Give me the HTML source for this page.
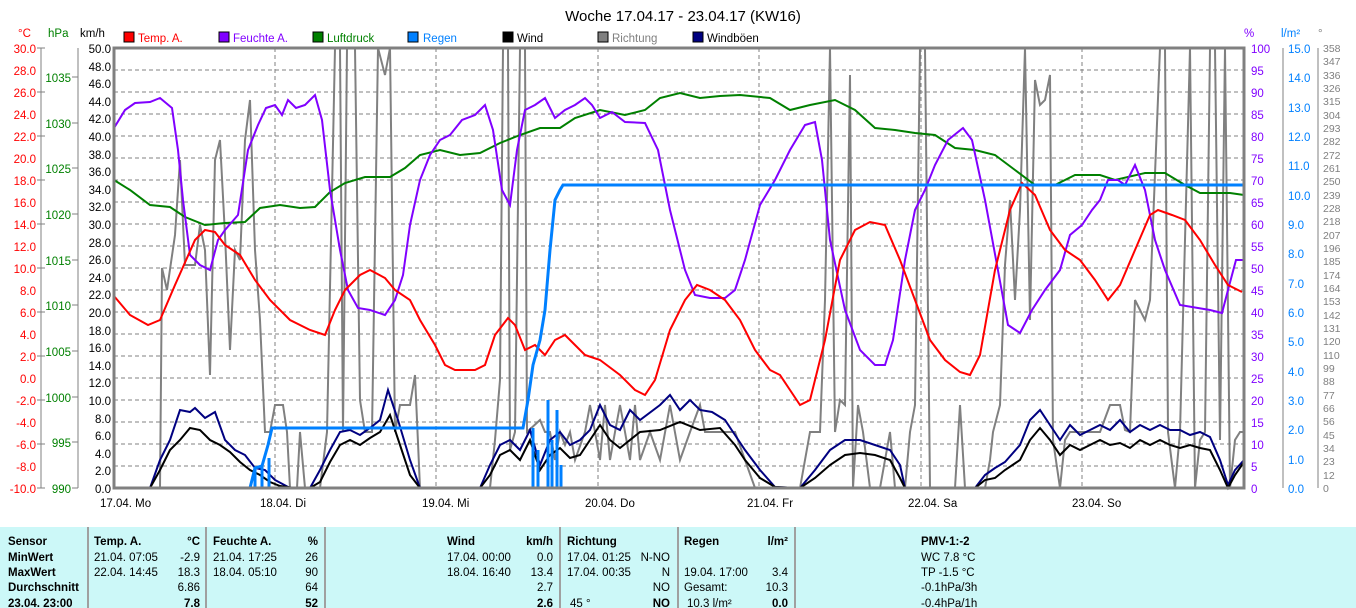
<!DOCTYPE html>
<html><head><meta charset="utf-8"><style>
body{margin:0;width:1356px;height:608px;background:#fff;overflow:hidden;font-family:"Liberation Sans",sans-serif}
svg{position:absolute;left:0;top:0}
.t{position:absolute;font-size:11.5px;letter-spacing:-0.3px;white-space:nowrap}
.b{font-weight:bold}
</style></head><body>
<svg width="1356" height="608" font-family="Liberation Sans, sans-serif" font-size="12">
<text x="683" y="21" text-anchor="middle" font-size="15" fill="#000">Woche 17.04.17 - 23.04.17 (KW16)</text>
<!-- legend -->
<g font-size="11.5">
<rect x="124" y="32" width="10" height="10" fill="#f00" stroke="#000"/><text x="138" y="42" fill="#f00">Temp. A.</text>
<rect x="219" y="32" width="10" height="10" fill="#8000ff" stroke="#000"/><text x="233" y="42" fill="#8000ff">Feuchte A.</text>
<rect x="313" y="32" width="10" height="10" fill="#008000" stroke="#000"/><text x="327" y="42" fill="#008000">Luftdruck</text>
<rect x="408" y="32" width="10" height="10" fill="#0080ff" stroke="#000"/><text x="423" y="42" fill="#0080ff">Regen</text>
<rect x="503" y="32" width="10" height="10" fill="#000" stroke="#000"/><text x="517" y="42" fill="#000">Wind</text>
<rect x="598" y="32" width="10" height="10" fill="#808080" stroke="#000"/><text x="612" y="42" fill="#808080">Richtung</text>
<rect x="693" y="32" width="10" height="10" fill="#000080" stroke="#000"/><text x="707" y="42" fill="#000">Windböen</text>
</g>
<text x="18" y="37" fill="#f00" font-size="11.5">°C</text>
<text x="48" y="37" fill="#008000" font-size="11.5">hPa</text>
<text x="80" y="37" fill="#000" font-size="11.5">km/h</text>
<text x="1244" y="37" fill="#8000ff" font-size="11.5">%</text>
<text x="1281" y="37" fill="#0080ff" font-size="11.5">l/m²</text>
<text x="1318" y="37" fill="#808080" font-size="11.5">°</text>
<!-- grid -->
<g stroke="#808080" stroke-dasharray="4,3" stroke-width="1">
<line x1="114" x2="1244" y1="70" y2="70"/><line x1="114" x2="1244" y1="92" y2="92"/><line x1="114" x2="1244" y1="114" y2="114"/><line x1="114" x2="1244" y1="136" y2="136"/><line x1="114" x2="1244" y1="158" y2="158"/><line x1="114" x2="1244" y1="180" y2="180"/><line x1="114" x2="1244" y1="202" y2="202"/><line x1="114" x2="1244" y1="224" y2="224"/><line x1="114" x2="1244" y1="246" y2="246"/><line x1="114" x2="1244" y1="268" y2="268"/><line x1="114" x2="1244" y1="290" y2="290"/><line x1="114" x2="1244" y1="312" y2="312"/><line x1="114" x2="1244" y1="334" y2="334"/><line x1="114" x2="1244" y1="356" y2="356"/><line x1="114" x2="1244" y1="378" y2="378"/><line x1="114" x2="1244" y1="400" y2="400"/><line x1="114" x2="1244" y1="422" y2="422"/><line x1="114" x2="1244" y1="444" y2="444"/><line x1="114" x2="1244" y1="466" y2="466"/>
<line x1="275" x2="275" y1="48" y2="488"/><line x1="436" x2="436" y1="48" y2="488"/><line x1="598" x2="598" y1="48" y2="488"/><line x1="759" x2="759" y1="48" y2="488"/><line x1="921" x2="921" y1="48" y2="488"/><line x1="1082" x2="1082" y1="48" y2="488"/>
</g>
<!-- left axes -->
<g stroke="#808080"><line x1="41" y1="48" x2="41" y2="488"/><line x1="78" y1="48" x2="78" y2="488"/></g>
<g fill="#f00" text-anchor="end" font-size="11.5">
<text x="36" y="53">30.0</text><text x="36" y="75">28.0</text><text x="36" y="97">26.0</text><text x="36" y="119">24.0</text><text x="36" y="141">22.0</text><text x="36" y="163">20.0</text><text x="36" y="185">18.0</text><text x="36" y="207">16.0</text><text x="36" y="229">14.0</text><text x="36" y="251">12.0</text><text x="36" y="273">10.0</text><text x="36" y="295">8.0</text><text x="36" y="317">6.0</text><text x="36" y="339">4.0</text><text x="36" y="361">2.0</text><text x="36" y="383">0.0</text><text x="36" y="405">-2.0</text><text x="36" y="427">-4.0</text><text x="36" y="449">-6.0</text><text x="36" y="471">-8.0</text><text x="36" y="493">-10.0</text>
</g>
<g stroke="#808080"><line x1="37" x2="45" y1="48" y2="48"/><line x1="37" x2="45" y1="92" y2="92"/><line x1="37" x2="45" y1="136" y2="136"/><line x1="37" x2="45" y1="180" y2="180"/><line x1="37" x2="45" y1="224" y2="224"/><line x1="37" x2="45" y1="268" y2="268"/><line x1="37" x2="45" y1="312" y2="312"/><line x1="37" x2="45" y1="356" y2="356"/><line x1="37" x2="45" y1="400" y2="400"/><line x1="37" x2="45" y1="444" y2="444"/><line x1="37" x2="45" y1="488" y2="488"/>
<line x1="72" x2="78" y1="77" y2="77"/><line x1="72" x2="78" y1="123" y2="123"/><line x1="72" x2="78" y1="168" y2="168"/><line x1="72" x2="78" y1="214" y2="214"/><line x1="72" x2="78" y1="260" y2="260"/><line x1="72" x2="78" y1="305" y2="305"/><line x1="72" x2="78" y1="351" y2="351"/><line x1="72" x2="78" y1="397" y2="397"/><line x1="72" x2="78" y1="442" y2="442"/><line x1="72" x2="78" y1="488" y2="488"/></g>
<g fill="#008000" text-anchor="end" font-size="11.5">
<text x="71" y="82">1035</text><text x="71" y="128">1030</text><text x="71" y="173">1025</text><text x="71" y="219">1020</text><text x="71" y="265">1015</text><text x="71" y="310">1010</text><text x="71" y="356">1005</text><text x="71" y="402">1000</text><text x="71" y="447">995</text><text x="71" y="493">990</text>
</g>
<g fill="#000" text-anchor="end" font-size="11.5">
<text x="111" y="53">50.0</text><text x="111" y="71">48.0</text><text x="111" y="88">46.0</text><text x="111" y="106">44.0</text><text x="111" y="123">42.0</text><text x="111" y="141">40.0</text><text x="111" y="159">38.0</text><text x="111" y="176">36.0</text><text x="111" y="194">34.0</text><text x="111" y="211">32.0</text><text x="111" y="229">30.0</text><text x="111" y="247">28.0</text><text x="111" y="264">26.0</text><text x="111" y="282">24.0</text><text x="111" y="299">22.0</text><text x="111" y="317">20.0</text><text x="111" y="335">18.0</text><text x="111" y="352">16.0</text><text x="111" y="370">14.0</text><text x="111" y="387">12.0</text><text x="111" y="405">10.0</text><text x="111" y="423">8.0</text><text x="111" y="440">6.0</text><text x="111" y="458">4.0</text><text x="111" y="475">2.0</text><text x="111" y="493">0.0</text>
</g>
<!-- right axes -->
<g stroke="#808080"><line x1="1283" y1="48" x2="1283" y2="488"/><line x1="1318" y1="48" x2="1318" y2="488"/></g>
<g fill="#8000ff" font-size="11.5">
<text x="1251" y="53">100</text><text x="1251" y="75">95</text><text x="1251" y="97">90</text><text x="1251" y="119">85</text><text x="1251" y="141">80</text><text x="1251" y="163">75</text><text x="1251" y="185">70</text><text x="1251" y="207">65</text><text x="1251" y="229">60</text><text x="1251" y="251">55</text><text x="1251" y="273">50</text><text x="1251" y="295">45</text><text x="1251" y="317">40</text><text x="1251" y="339">35</text><text x="1251" y="361">30</text><text x="1251" y="383">25</text><text x="1251" y="405">20</text><text x="1251" y="427">15</text><text x="1251" y="449">10</text><text x="1251" y="471">5</text><text x="1251" y="493">0</text>
</g>
<g fill="#0080ff" font-size="11.5">
<text x="1288" y="53">15.0</text><text x="1288" y="82">14.0</text><text x="1288" y="112">13.0</text><text x="1288" y="141">12.0</text><text x="1288" y="170">11.0</text><text x="1288" y="200">10.0</text><text x="1288" y="229">9.0</text><text x="1288" y="258">8.0</text><text x="1288" y="288">7.0</text><text x="1288" y="317">6.0</text><text x="1288" y="346">5.0</text><text x="1288" y="376">4.0</text><text x="1288" y="405">3.0</text><text x="1288" y="434">2.0</text><text x="1288" y="464">1.0</text><text x="1288" y="493">0.0</text>
</g>
<g fill="#808080" font-size="10.5">
<text x="1323" y="52">358</text><text x="1323" y="65">347</text><text x="1323" y="79">336</text><text x="1323" y="92">326</text><text x="1323" y="105">315</text><text x="1323" y="119">304</text><text x="1323" y="132">293</text><text x="1323" y="145">282</text><text x="1323" y="159">272</text><text x="1323" y="172">261</text><text x="1323" y="185">250</text><text x="1323" y="199">239</text><text x="1323" y="212">228</text><text x="1323" y="225">218</text><text x="1323" y="239">207</text><text x="1323" y="252">196</text><text x="1323" y="265">185</text><text x="1323" y="279">174</text><text x="1323" y="292">164</text><text x="1323" y="305">153</text><text x="1323" y="319">142</text><text x="1323" y="332">131</text><text x="1323" y="345">120</text><text x="1323" y="359">110</text><text x="1323" y="372">99</text><text x="1323" y="385">88</text><text x="1323" y="399">77</text><text x="1323" y="412">66</text><text x="1323" y="425">56</text><text x="1323" y="439">45</text><text x="1323" y="452">34</text><text x="1323" y="465">23</text><text x="1323" y="479">12</text><text x="1323" y="492">0</text>
</g>
<!-- series -->
<polyline fill="none" stroke="#808080" stroke-width="2" points="114,488 160,488 162,268 167,290 175,235 180,160 185,265 195,265 200,225 205,250 210,375 215,160 220,140 225,235 230,350 235,250 240,260 245,140 250,100 255,250 260,320 265,432 270,432 275,405 283,405 287,432 290,488 297,488 300,432 305,488 320,488 327,432 335,48 340,48 343,432 347,48 355,48 360,400 365,432 372,432 378,48 385,75 390,48 395,432 400,405 410,405 415,375 420,488 490,488 495,440 500,380 503,48 508,48 510,450 515,432 520,48 525,48 527,432 540,420 545,432 550,432 555,460 560,432 565,445 570,432 575,460 585,432 590,405 595,432 600,460 605,405 610,460 615,432 620,405 625,432 630,460 635,405 640,460 650,432 660,460 670,405 680,460 690,432 700,405 705,432 735,432 745,460 755,488 800,488 810,432 820,432 825,300 830,48 835,432 840,400 845,405 850,75 853,488 858,405 863,432 870,488 880,488 890,432 895,488 905,488 910,432 915,405 920,48 925,48 930,488 955,488 960,405 965,488 985,488 990,460 993,432 1000,405 1005,265 1010,200 1015,300 1020,210 1025,48 1030,320 1035,80 1040,105 1045,100 1050,75 1053,440 1060,488 1065,440 1070,432 1100,432 1110,405 1120,405 1125,430 1130,432 1135,300 1140,310 1145,320 1150,300 1160,48 1165,48 1168,432 1175,488 1180,432 1190,48 1195,488 1200,440 1205,432 1210,48 1215,48 1220,440 1225,48 1230,488 1235,440 1240,432 1244,432"/>
<polyline fill="none" stroke="#008000" stroke-width="2" points="114,180 130,190 150,205 170,207 185,217 205,225 225,223 245,222 260,208 280,205 300,208 315,207 330,192 345,183 365,177 390,177 405,168 420,155 440,150 460,155 480,153 500,143 520,135 540,128 560,128 575,118 600,110 625,115 645,110 660,98 680,93 700,98 720,96 740,95 770,98 790,110 810,105 835,100 855,110 875,128 895,130 915,133 935,135 955,148 975,150 995,155 1015,170 1035,185 1055,185 1075,175 1100,175 1115,180 1145,173 1165,173 1185,185 1200,193 1230,193 1244,195"/>
<polyline fill="none" stroke="#8000ff" stroke-width="2" points="114,128 125,110 135,103 150,102 160,98 172,108 178,150 183,200 190,255 200,265 210,270 218,240 225,230 238,215 248,150 258,125 266,108 275,105 282,115 288,100 296,108 305,105 315,95 322,120 330,190 340,250 348,290 358,308 370,310 385,315 395,300 403,275 410,225 420,180 430,155 440,140 450,135 462,120 475,115 485,105 493,130 502,190 510,205 517,150 525,110 535,105 545,98 555,118 565,110 575,105 585,98 592,105 600,118 612,112 625,122 645,123 658,150 670,210 685,270 695,295 710,298 725,298 735,290 745,260 760,205 775,180 790,150 805,125 815,122 822,160 830,240 845,310 860,350 875,365 885,365 893,340 905,260 915,210 925,190 935,165 948,140 963,128 972,140 985,200 997,265 1008,325 1020,333 1032,310 1045,290 1060,270 1070,235 1082,225 1092,210 1100,200 1108,180 1118,180 1125,185 1135,165 1145,190 1155,240 1165,270 1180,305 1198,308 1210,310 1222,313 1228,290 1236,260 1244,260"/>
<polyline fill="none" stroke="#f00" stroke-width="2" points="114,296 130,315 148,325 160,320 175,285 195,240 205,230 215,232 225,245 240,255 255,280 270,300 290,320 310,330 325,335 335,310 345,290 360,275 370,270 385,278 395,290 410,300 420,320 435,345 445,365 455,370 475,370 485,365 495,335 508,318 515,325 525,350 535,345 545,355 555,340 565,335 575,345 585,355 600,360 620,375 635,390 645,395 655,380 670,330 685,300 697,285 710,290 725,300 740,320 755,350 770,370 780,375 790,390 800,405 810,400 825,340 840,260 855,230 870,222 885,225 900,260 915,300 930,340 945,360 960,372 970,375 980,355 995,270 1010,210 1022,183 1035,195 1050,230 1065,250 1080,260 1095,280 1108,300 1120,285 1135,250 1150,215 1158,210 1172,215 1185,220 1200,240 1215,265 1228,285 1242,292"/>
<polyline fill="none" stroke="#000080" stroke-width="2" points="114,488 150,488 160,460 170,440 180,410 190,412 195,408 205,418 215,412 225,440 235,450 245,455 255,468 265,470 275,480 290,488 310,488 320,470 330,450 340,432 350,430 360,435 370,428 380,420 388,390 398,420 410,460 420,488 480,488 490,465 500,445 510,440 520,450 530,430 540,465 550,440 560,432 570,445 580,440 590,430 600,405 610,425 620,430 630,410 640,420 660,405 670,395 680,410 690,400 700,410 712,412 725,420 735,435 745,450 760,470 775,487 800,488 815,470 830,450 845,440 860,440 875,445 890,450 900,465 905,488 975,488 985,475 995,468 1005,462 1020,445 1030,420 1040,410 1050,425 1060,440 1070,425 1080,435 1090,430 1100,425 1110,430 1120,420 1130,432 1140,425 1150,430 1160,425 1170,430 1180,430 1190,435 1200,432 1210,437 1220,460 1228,485 1235,470 1244,460"/>
<polyline fill="none" stroke="#000" stroke-width="2" points="114,488 150,488 160,470 170,450 180,440 190,428 200,430 210,440 220,445 230,452 240,462 250,470 260,475 270,482 280,486 295,488 310,488 320,482 330,462 340,445 350,440 360,445 370,438 380,432 390,415 400,445 410,475 420,488 480,488 490,475 500,455 510,450 520,460 530,440 540,470 550,455 560,448 570,458 580,455 590,440 600,425 610,440 620,448 640,432 660,430 680,422 700,430 720,428 735,445 745,460 760,478 775,487 800,488 815,478 830,465 845,455 860,453 875,455 890,460 900,478 905,488 975,488 985,480 995,478 1005,470 1020,460 1030,440 1040,428 1050,440 1060,455 1070,445 1080,450 1090,445 1100,440 1110,445 1120,443 1130,448 1140,440 1150,445 1160,440 1170,445 1180,448 1190,445 1200,448 1210,450 1220,470 1228,488 1235,475 1244,462"/>
<g stroke="#0080ff" stroke-width="3">
<line x1="255" y1="488" x2="255" y2="468"/><line x1="262" y1="488" x2="262" y2="466"/><line x1="269" y1="488" x2="269" y2="458"/>
<line x1="533" y1="488" x2="533" y2="428"/><line x1="538" y1="488" x2="538" y2="450"/><line x1="548" y1="488" x2="548" y2="400"/><line x1="552" y1="488" x2="552" y2="440"/><line x1="557" y1="488" x2="557" y2="410"/><line x1="561" y1="488" x2="561" y2="465"/>
</g>
<polyline fill="none" stroke="#0080ff" stroke-width="3" points="250,488 255,468 262,466 268,445 272,428 523,428 528,400 533,365 540,340 545,310 550,250 555,200 560,190 563,185 1244,185"/>
<rect x="114" y="48" width="1130" height="440" fill="none" stroke="#808080" stroke-width="3"/>
<g fill="#000" font-size="11.5">
<text x="100" y="507">17.04. Mo</text><text x="260" y="507">18.04. Di</text><text x="422" y="507">19.04. Mi</text><text x="585" y="507">20.04. Do</text><text x="747" y="507">21.04. Fr</text><text x="908" y="507">22.04. Sa</text><text x="1072" y="507">23.04. So</text>
</g>
<!-- table -->
<rect x="0" y="527" width="1356" height="81" fill="#ccf8f8"/>
<g stroke="#a0a0a0" stroke-width="2"><line x1="88" y1="527" x2="88" y2="608"/><line x1="206" y1="527" x2="206" y2="608"/><line x1="325" y1="527" x2="325" y2="608"/><line x1="560" y1="527" x2="560" y2="608"/><line x1="678" y1="527" x2="678" y2="608"/><line x1="795" y1="527" x2="795" y2="608"/></g>
<g font-size="11.5" fill="#000">
<g font-weight="bold"><text x="8" y="545">Sensor</text><text x="8" y="561">MinWert</text><text x="8" y="576">MaxWert</text><text x="8" y="591">Durchschnitt</text><text x="8" y="607">23.04. 23:00</text>
<text x="94" y="545">Temp. A.</text><text x="200" y="545" text-anchor="end">°C</text><text x="213" y="545">Feuchte A.</text><text x="318" y="545" text-anchor="end">%</text>
<text x="447" y="545">Wind</text><text x="553" y="545" text-anchor="end">km/h</text><text x="567" y="545">Richtung</text><text x="684" y="545">Regen</text><text x="788" y="545" text-anchor="end">l/m²</text><text x="921" y="545">PMV-1:-2</text>
<text x="200" y="607" text-anchor="end">7.8</text><text x="318" y="607" text-anchor="end">52</text><text x="553" y="607" text-anchor="end">2.6</text><text x="670" y="607" text-anchor="end">NO</text><text x="788" y="607" text-anchor="end">0.0</text></g>
<text x="94" y="561">21.04.  07:05</text><text x="200" y="561" text-anchor="end">-2.9</text><text x="213" y="561">21.04.  17:25</text><text x="318" y="561" text-anchor="end">26</text>
<text x="94" y="576">22.04.  14:45</text><text x="200" y="576" text-anchor="end">18.3</text><text x="213" y="576">18.04.  05:10</text><text x="318" y="576" text-anchor="end">90</text>
<text x="200" y="591" text-anchor="end">6.86</text><text x="318" y="591" text-anchor="end">64</text>
<text x="447" y="561">17.04.  00:00</text><text x="553" y="561" text-anchor="end">0.0</text><text x="447" y="576">18.04.  16:40</text><text x="553" y="576" text-anchor="end">13.4</text><text x="553" y="591" text-anchor="end">2.7</text>
<text x="567" y="561">17.04.  01:25</text><text x="670" y="561" text-anchor="end">N-NO</text><text x="567" y="576">17.04.  00:35</text><text x="670" y="576" text-anchor="end">N</text><text x="670" y="591" text-anchor="end">NO</text><text x="570" y="607">45 °</text>
<text x="684" y="576">19.04.  17:00</text><text x="788" y="576" text-anchor="end">3.4</text><text x="684" y="591">Gesamt:</text><text x="788" y="591" text-anchor="end">10.3</text><text x="687" y="607">10.3 l/m²</text>
<text x="921" y="561">WC 7.8 °C</text><text x="921" y="576">TP -1.5 °C</text><text x="921" y="591">-0.1hPa/3h</text><text x="921" y="607">-0.4hPa/1h</text>
</g>
</svg>
</body></html>
